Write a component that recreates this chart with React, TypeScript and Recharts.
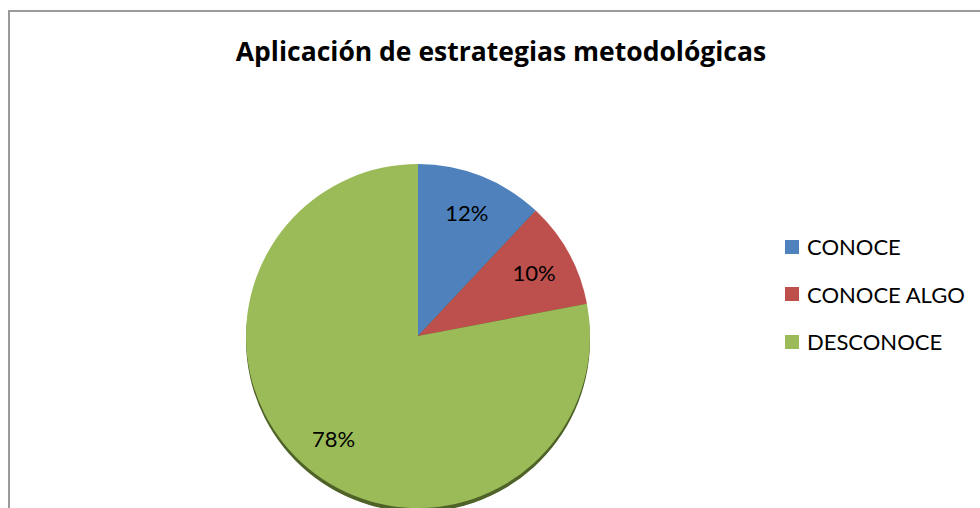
import React from 'react';
import { PieChart, Pie, Cell, Legend } from 'recharts';

const categories = ['CONOCE', 'CONOCE ALGO', 'DESCONOCE'];
const percentages = [12, 10, 78];
const COLORS = ['#4f81bd', '#bd504d', '#9bbb59'];

const data = categories.map((name, i) => ({ name, value: percentages[i] }));

const FONT = 'Lato, "Open Sans", sans-serif';

const renderLabel = ({ cx, cy, midAngle, outerRadius, percent }: any) => {
  const r = outerRadius * 0.77;
  const x = cx + r * Math.cos((-midAngle * Math.PI) / 180);
  const y = cy + r * Math.sin((-midAngle * Math.PI) / 180);
  return (
    <text
      x={x}
      y={y}
      fill="#000000"
      textAnchor="middle"
      dominantBaseline="central"
      fontSize={22}
      fontFamily={FONT}
    >
      {`${Math.round(percent * 100)}%`}
    </text>
  );
};

const renderLegend = () => (
  <div style={{ fontFamily: FONT, fontSize: 22, color: '#000' }}>
    {data.map((d, i) => (
      <div key={d.name} style={{ display: 'flex', alignItems: 'center', height: 47.5 }}>
        <span
          style={{
            display: 'inline-block',
            width: 14,
            height: 14,
            background: COLORS[i],
            marginRight: 8,
          }}
        />
        <span>{d.name}</span>
      </div>
    ))}
  </div>
);

export default function App() {
  return (
    <div style={{ position: 'relative', width: 980, height: 508, overflow: 'hidden' }}>
      <style>{`body{margin:0;overflow:hidden}`}</style>
      <div
        style={{
          position: 'absolute',
          left: 8,
          top: 10,
          width: 980,
          height: 510,
          borderTop: '2px solid #9a9a9a',
          borderLeft: '2px solid #9a9a9a',
          boxSizing: 'border-box',
        }}
      />
      <div
        style={{
          position: 'absolute',
          left: 0,
          width: 1002,
          top: 34,
          textAlign: 'center',
          fontFamily: '"Open Sans", sans-serif',
          fontWeight: 'bold',
          fontSize: 26.5,
          lineHeight: '34px',
          color: '#000',
        }}
      >
        Aplicación de estrategias metodológicas
      </div>
      <div style={{ position: 'absolute', left: 0, top: 0 }}>
        <PieChart width={980} height={508} margin={{ top: 0, right: 0, bottom: 0, left: 0 }}>
          <Pie
            data={data}
            dataKey="value"
            cx={418}
            cy={340}
            outerRadius={172}
            startAngle={90}
            endAngle={-270}
            stroke="none"
            fill="#4f6228"
            legendType="none"
            isAnimationActive={false}
          />
          <Pie
            data={data}
            dataKey="value"
            cx={418}
            cy={336}
            outerRadius={172}
            startAngle={90}
            endAngle={-270}
            stroke="none"
            labelLine={false}
            label={renderLabel}
            isAnimationActive={false}
          >
            {data.map((entry, index) => (
              <Cell key={`cell-${index}`} fill={COLORS[index % COLORS.length]} />
            ))}
          </Pie>
          <Legend
            layout="vertical"
            content={renderLegend}
            wrapperStyle={{ left: 785, top: 223, width: 195 }}
          />
        </PieChart>
      </div>
    </div>
  );
}
